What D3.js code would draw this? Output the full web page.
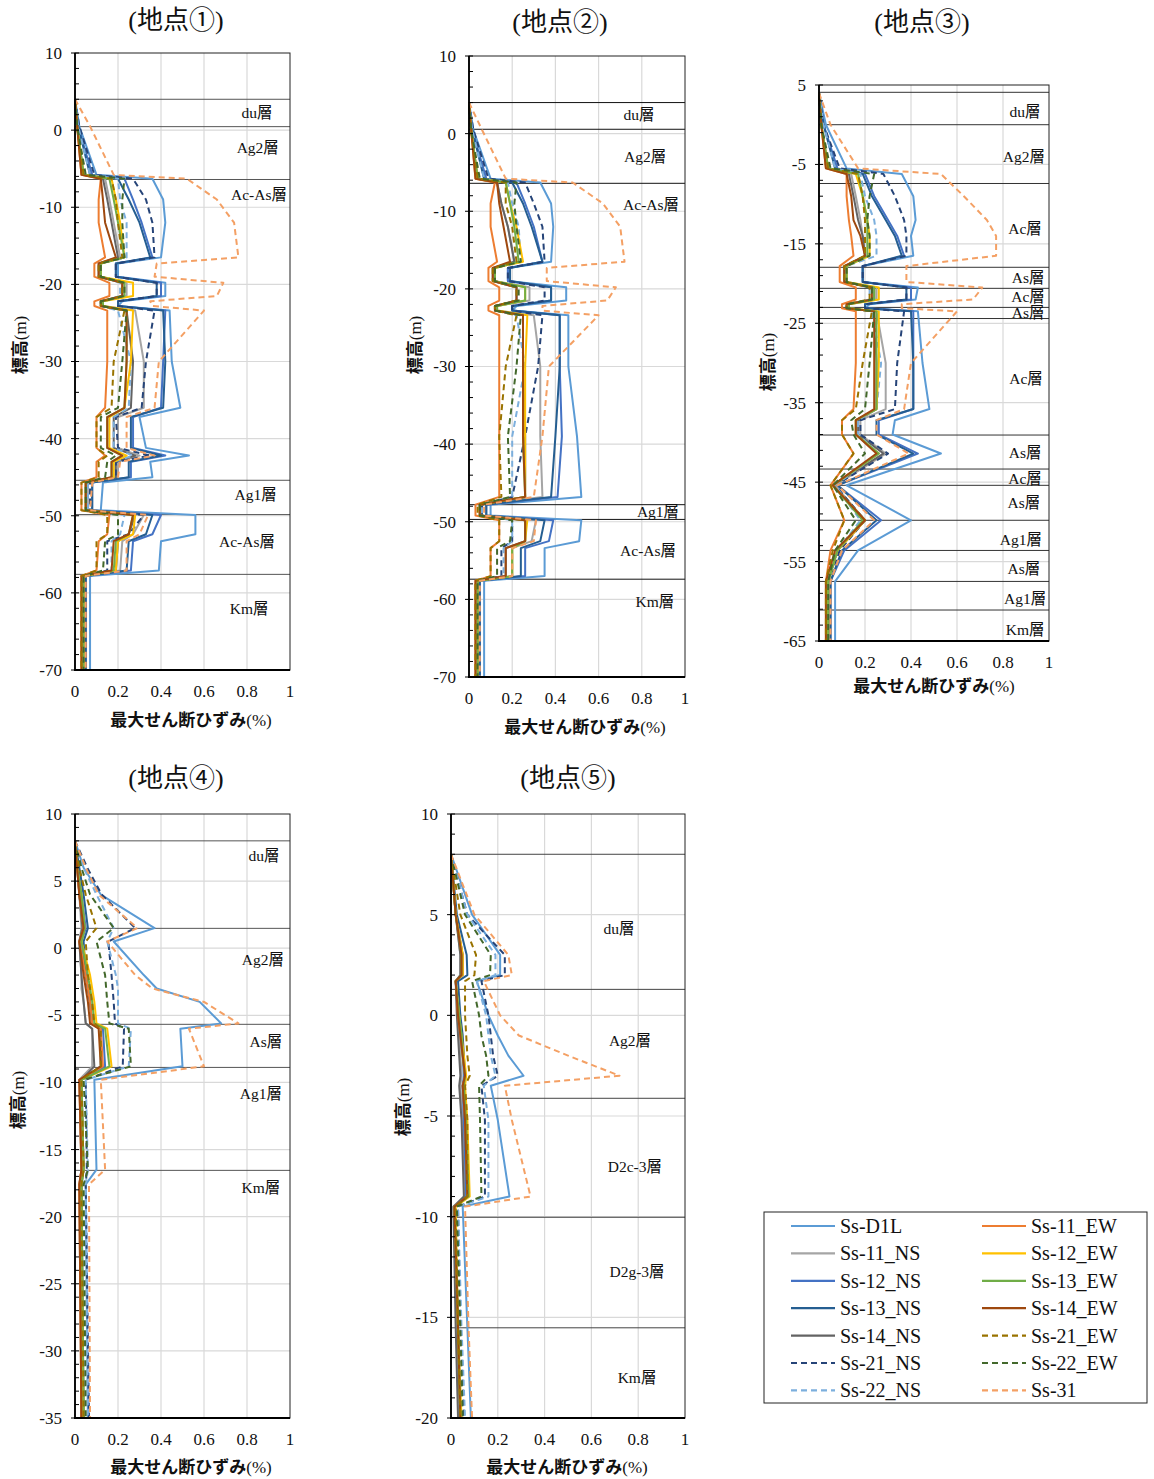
<!DOCTYPE html>
<html><head><meta charset="utf-8">
<script src="https://cdn.jsdelivr.net/npm/d3@7"></script>
<style>
body{margin:0;background:#fff;}
svg{display:block;}
</style></head>
<body>
<svg id="chart" width="1154" height="1479"></svg>
<script>
// ---------------- DATA ----------------
const seriesNames = ["Ss-D1L","Ss-11_NS","Ss-12_NS","Ss-13_NS","Ss-14_NS","Ss-21_NS","Ss-22_NS",
                     "Ss-11_EW","Ss-12_EW","Ss-13_EW","Ss-14_EW","Ss-21_EW","Ss-22_EW","Ss-31"];
const seriesColors = ["#5B9BD5","#A5A5A5","#4472C4","#255E91","#636363","#264478","#7CAFDD",
                      "#ED7D31","#FFC000","#70AD47","#9E480E","#997300","#43682B","#F4A064"];
const seriesDashed = [false,false,false,false,false,true,true,false,false,false,false,true,true,true];
const xTicks = [0,0.2,0.4,0.6,0.8,1];
const xTickLabels = ["0","0.2","0.4","0.6","0.8","1"];

// ---- 地点① ----
const depthSite1 = [4,0.5,-5.8,-6.3,-9,-12,-16.5,-17.3,-19,-19.8,-21.5,-22.2,-22.8,-23.4,-30,-36,-37.2,-41.2,-42.2,-43,-45,-45.7,-49.3,-49.9,-52.4,-53.3,-57.1,-57.8,-70];
const strainSite1 = {
 "Ss-D1L":  [0,0.02,0.1,0.36,0.41,0.42,0.4,0.2,0.2,0.42,0.42,0.22,0.2,0.44,0.45,0.49,0.3,0.33,0.53,0.35,0.36,0.13,0.12,0.56,0.56,0.4,0.39,0.07,0.07],
 "Ss-11_NS":[0,0.01,0.04,0.14,0.16,0.18,0.21,0.12,0.12,0.24,0.24,0.13,0.13,0.28,0.32,0.32,0.2,0.2,0.3,0.2,0.2,0.06,0.06,0.32,0.27,0.22,0.21,0.04,0.04],
 "Ss-12_NS":[0,0.015,0.08,0.23,0.27,0.31,0.36,0.19,0.19,0.4,0.4,0.2,0.2,0.42,0.41,0.4,0.27,0.27,0.42,0.26,0.26,0.08,0.08,0.4,0.36,0.27,0.26,0.05,0.05],
 "Ss-13_NS":[0,0.015,0.07,0.2,0.25,0.3,0.35,0.19,0.19,0.38,0.38,0.2,0.2,0.41,0.42,0.41,0.26,0.26,0.4,0.25,0.25,0.08,0.08,0.36,0.33,0.25,0.24,0.05,0.05],
 "Ss-14_NS":[0,0.01,0.04,0.13,0.15,0.17,0.2,0.11,0.11,0.22,0.22,0.12,0.12,0.24,0.27,0.26,0.18,0.18,0.28,0.19,0.19,0.05,0.05,0.28,0.25,0.2,0.19,0.04,0.04],
 "Ss-21_NS":[0,0.02,0.09,0.27,0.33,0.36,0.37,0.19,0.19,0.38,0.38,0.2,0.2,0.37,0.33,0.31,0.19,0.2,0.35,0.19,0.19,0.07,0.07,0.32,0.25,0.15,0.15,0.05,0.05],
 "Ss-22_NS":[0,0.015,0.07,0.2,0.21,0.24,0.24,0.12,0.12,0.21,0.21,0.13,0.12,0.2,0.26,0.25,0.18,0.18,0.27,0.18,0.18,0.06,0.06,0.23,0.21,0.17,0.17,0.04,0.04],
 "Ss-11_EW":[0,0.01,0.03,0.12,0.11,0.11,0.14,0.09,0.09,0.16,0.16,0.09,0.09,0.15,0.15,0.14,0.1,0.1,0.14,0.1,0.1,0.03,0.03,0.16,0.15,0.11,0.1,0.03,0.03],
 "Ss-12_EW":[0,0.01,0.04,0.17,0.19,0.21,0.23,0.12,0.12,0.27,0.27,0.13,0.13,0.27,0.26,0.23,0.16,0.16,0.24,0.18,0.18,0.05,0.05,0.28,0.27,0.2,0.19,0.04,0.04],
 "Ss-13_EW":[0,0.01,0.04,0.16,0.18,0.2,0.23,0.12,0.12,0.23,0.23,0.13,0.13,0.24,0.24,0.23,0.15,0.15,0.22,0.17,0.17,0.05,0.05,0.27,0.25,0.19,0.18,0.04,0.04],
 "Ss-14_EW":[0,0.01,0.03,0.12,0.13,0.14,0.19,0.11,0.11,0.22,0.22,0.12,0.12,0.24,0.24,0.23,0.15,0.15,0.22,0.17,0.17,0.05,0.05,0.27,0.25,0.18,0.17,0.03,0.03],
 "Ss-21_EW":[0,0.01,0.04,0.17,0.19,0.2,0.22,0.11,0.11,0.22,0.22,0.12,0.12,0.23,0.18,0.17,0.1,0.1,0.15,0.11,0.11,0.03,0.03,0.15,0.15,0.1,0.1,0.03,0.03],
 "Ss-22_EW":[0,0.01,0.05,0.23,0.22,0.22,0.23,0.12,0.12,0.23,0.23,0.12,0.12,0.24,0.22,0.2,0.12,0.12,0.19,0.15,0.14,0.05,0.05,0.2,0.2,0.14,0.13,0.04,0.04],
 "Ss-31":   [0,0.07,0.18,0.52,0.66,0.74,0.76,0.38,0.37,0.69,0.66,0.35,0.36,0.6,0.39,0.37,0.24,0.24,0.37,0.21,0.2,0.08,0.07,0.34,0.3,0.24,0.24,0.05,0.05]
};
const layersSite1 = [4.0,0.45,-6.4,-45.4,-49.85,-57.6];
const layerNamesSite1 = ["du層","Ag2層","Ac-As層","Ag1層","Ac-As層","Km層"];
const layerLabelElevSite1 = [2.3,-2.3,-8.3,-47.2,-53.4,-62.1];
const layerLabelValSite1 = [0.846,0.85,0.856,0.84,0.8,0.81];

// ---- 地点② ----
const depthSite2 = [4,0.5,-5.8,-6.3,-9,-12,-16.5,-17.3,-19,-19.8,-21.5,-22.2,-22.8,-23.4,-30,-39,-46.8,-47.8,-49.2,-49.8,-52.5,-53.4,-57.0,-57.6,-70];
const strainSite2 = {
 "Ss-D1L":  [0,0.02,0.1,0.33,0.38,0.39,0.38,0.18,0.18,0.45,0.45,0.22,0.2,0.46,0.46,0.5,0.52,0.1,0.1,0.52,0.51,0.35,0.35,0.07,0.07],
 "Ss-11_NS":[0,0.01,0.04,0.13,0.15,0.18,0.21,0.12,0.12,0.28,0.28,0.13,0.13,0.3,0.33,0.33,0.34,0.06,0.06,0.31,0.29,0.2,0.2,0.04,0.04],
 "Ss-12_NS":[0,0.015,0.08,0.22,0.26,0.3,0.34,0.18,0.18,0.38,0.38,0.2,0.2,0.42,0.42,0.43,0.41,0.08,0.08,0.39,0.37,0.26,0.26,0.05,0.05],
 "Ss-13_NS":[0,0.015,0.07,0.2,0.25,0.29,0.34,0.19,0.19,0.38,0.38,0.2,0.2,0.42,0.42,0.4,0.38,0.08,0.08,0.35,0.33,0.24,0.24,0.05,0.05],
 "Ss-14_NS":[0,0.01,0.04,0.13,0.15,0.18,0.21,0.11,0.11,0.22,0.22,0.12,0.12,0.25,0.25,0.26,0.26,0.05,0.05,0.26,0.26,0.17,0.17,0.04,0.04],
 "Ss-21_NS":[0,0.02,0.09,0.26,0.3,0.34,0.35,0.18,0.18,0.35,0.35,0.2,0.2,0.34,0.32,0.26,0.2,0.06,0.06,0.2,0.2,0.15,0.15,0.04,0.04],
 "Ss-22_NS":[0,0.015,0.07,0.18,0.2,0.23,0.24,0.12,0.12,0.22,0.22,0.13,0.13,0.22,0.26,0.2,0.2,0.06,0.06,0.2,0.2,0.16,0.16,0.04,0.04],
 "Ss-11_EW":[0,0.01,0.03,0.12,0.1,0.1,0.13,0.09,0.09,0.14,0.14,0.09,0.09,0.14,0.14,0.14,0.14,0.03,0.03,0.14,0.14,0.1,0.1,0.03,0.03],
 "Ss-12_EW":[0,0.01,0.04,0.17,0.19,0.22,0.25,0.12,0.12,0.26,0.26,0.13,0.13,0.27,0.26,0.26,0.26,0.05,0.05,0.27,0.26,0.2,0.2,0.04,0.04],
 "Ss-13_EW":[0,0.01,0.04,0.17,0.19,0.21,0.23,0.12,0.12,0.26,0.26,0.13,0.13,0.25,0.25,0.25,0.26,0.05,0.05,0.26,0.26,0.2,0.2,0.04,0.04],
 "Ss-14_EW":[0,0.01,0.03,0.13,0.14,0.16,0.19,0.11,0.11,0.22,0.22,0.12,0.12,0.25,0.25,0.25,0.26,0.05,0.05,0.26,0.26,0.17,0.17,0.03,0.03],
 "Ss-21_EW":[0,0.01,0.04,0.17,0.17,0.2,0.22,0.11,0.11,0.22,0.22,0.12,0.12,0.22,0.17,0.14,0.15,0.04,0.04,0.14,0.14,0.1,0.1,0.03,0.03],
 "Ss-22_EW":[0,0.01,0.05,0.22,0.21,0.22,0.24,0.12,0.12,0.23,0.23,0.12,0.12,0.24,0.22,0.18,0.19,0.05,0.05,0.2,0.19,0.13,0.13,0.04,0.04],
 "Ss-31":   [0,0.06,0.17,0.48,0.62,0.7,0.72,0.36,0.36,0.68,0.64,0.34,0.34,0.6,0.37,0.34,0.3,0.07,0.07,0.31,0.3,0.2,0.2,0.05,0.05]
};
const layersSite2 = [4.0,0.56,-6.4,-47.8,-49.7,-57.4];
const layerNamesSite2 = ["du層","Ag2層","Ac-As層","Ag1層","Ac-As層","Km層"];
const layerLabelElevSite2 = [2.4,-2.9,-9.1,-48.7,-53.7,-60.3];
const layerLabelValSite2 = [0.787,0.815,0.843,0.875,0.829,0.861];

// ---- 地点③ ----
const depthSite3 = [4,0,-5.5,-6.2,-9,-12,-14,-16.5,-17.8,-19.8,-20.5,-22,-22.6,-23.1,-23.5,-30,-35.8,-37.2,-39,-41.4,-45.4,-49.8,-53.6,-57.5,-65];
const strainSite3 = {
 "Ss-D1L":  [0,0.03,0.12,0.36,0.41,0.42,0.4,0.41,0.19,0.19,0.43,0.42,0.22,0.2,0.43,0.45,0.48,0.33,0.32,0.53,0.12,0.4,0.17,0.07,0.07],
 "Ss-11_NS":[0,0.01,0.04,0.14,0.16,0.18,0.19,0.2,0.12,0.12,0.25,0.25,0.13,0.13,0.25,0.29,0.29,0.18,0.18,0.29,0.07,0.2,0.08,0.04,0.04],
 "Ss-12_NS":[0,0.02,0.08,0.2,0.24,0.3,0.34,0.37,0.19,0.19,0.4,0.4,0.2,0.2,0.41,0.41,0.41,0.26,0.26,0.43,0.08,0.27,0.11,0.05,0.05],
 "Ss-13_NS":[0,0.02,0.07,0.19,0.23,0.29,0.33,0.36,0.19,0.19,0.38,0.38,0.2,0.2,0.4,0.41,0.41,0.25,0.25,0.41,0.08,0.25,0.1,0.05,0.05],
 "Ss-14_NS":[0,0.01,0.04,0.13,0.15,0.17,0.19,0.2,0.11,0.11,0.24,0.24,0.12,0.12,0.24,0.25,0.25,0.17,0.17,0.28,0.06,0.2,0.08,0.04,0.04],
 "Ss-21_NS":[0,0.02,0.09,0.28,0.33,0.37,0.38,0.38,0.19,0.19,0.38,0.38,0.2,0.2,0.37,0.34,0.33,0.18,0.18,0.3,0.07,0.2,0.09,0.04,0.04],
 "Ss-22_NS":[0,0.02,0.07,0.18,0.2,0.24,0.25,0.25,0.12,0.12,0.22,0.22,0.13,0.13,0.23,0.27,0.25,0.17,0.17,0.26,0.07,0.18,0.08,0.04,0.04],
 "Ss-11_EW":[0,0.01,0.03,0.12,0.12,0.13,0.14,0.15,0.09,0.09,0.16,0.16,0.1,0.1,0.16,0.16,0.15,0.1,0.1,0.15,0.05,0.11,0.05,0.03,0.03],
 "Ss-12_EW":[0,0.01,0.04,0.16,0.19,0.21,0.22,0.22,0.12,0.12,0.26,0.26,0.13,0.13,0.26,0.26,0.25,0.16,0.16,0.26,0.06,0.2,0.08,0.04,0.04],
 "Ss-13_EW":[0,0.01,0.04,0.17,0.19,0.21,0.21,0.21,0.12,0.12,0.24,0.24,0.13,0.13,0.25,0.25,0.25,0.16,0.16,0.26,0.06,0.19,0.08,0.04,0.04],
 "Ss-14_EW":[0,0.01,0.03,0.12,0.14,0.15,0.18,0.2,0.11,0.11,0.23,0.23,0.12,0.12,0.24,0.24,0.24,0.16,0.16,0.25,0.06,0.2,0.07,0.03,0.03],
 "Ss-21_EW":[0,0.01,0.04,0.17,0.19,0.2,0.2,0.2,0.11,0.11,0.22,0.22,0.12,0.12,0.23,0.19,0.16,0.1,0.1,0.15,0.05,0.11,0.06,0.03,0.03],
 "Ss-22_EW":[0,0.01,0.05,0.24,0.22,0.21,0.22,0.22,0.12,0.12,0.23,0.23,0.12,0.12,0.24,0.22,0.2,0.14,0.15,0.2,0.06,0.16,0.07,0.04,0.04],
 "Ss-31":   [0,0.05,0.17,0.53,0.63,0.73,0.77,0.77,0.38,0.38,0.71,0.67,0.36,0.36,0.6,0.4,0.37,0.25,0.25,0.39,0.08,0.24,0.1,0.05,0.05]
};
const layersSite3 = [4.08,0,-7.4,-17.95,-20.6,-23.0,-24.4,-39.07,-43.35,-45.4,-49.8,-53.6,-57.5,-61.1];
const layerNamesSite3 = ["du層","Ag2層","Ac層","As層","Ac層","As層","Ac層","As層","Ac層","As層","Ag1層","As層","Ag1層","Km層"];
const layerLabelElevSite3 = [1.6,-4.07,-13.1,-19.3,-21.7,-23.7,-31.9,-41.3,-44.5,-47.6,-52.2,-55.9,-59.7,-63.6];
const layerLabelValSite3 = [0.896,0.891,0.896,0.909,0.909,0.909,0.9,0.896,0.896,0.891,0.878,0.891,0.896,0.896];

// ---- 地点④ ----
const depthSite4 = [8,6,4,1.5,0.5,-2,-3,-4,-5.6,-6,-8.8,-9.8,-16.5,-17.6,-35];
const strainSite4 = {
 "Ss-D1L":  [0,0.04,0.12,0.37,0.18,0.32,0.38,0.58,0.68,0.49,0.5,0.09,0.1,0.05,0.06],
 "Ss-11_NS":[0,0.01,0.02,0.03,0.02,0.03,0.03,0.04,0.05,0.08,0.08,0.02,0.03,0.02,0.03],
 "Ss-12_NS":[0,0.015,0.03,0.05,0.03,0.05,0.06,0.07,0.08,0.13,0.14,0.03,0.04,0.03,0.04],
 "Ss-13_NS":[0,0.02,0.04,0.06,0.04,0.05,0.06,0.07,0.08,0.12,0.12,0.03,0.04,0.03,0.04],
 "Ss-14_NS":[0,0.01,0.02,0.035,0.02,0.03,0.035,0.04,0.05,0.08,0.09,0.03,0.03,0.03,0.03],
 "Ss-21_NS":[0,0.057,0.124,0.28,0.155,0.17,0.175,0.18,0.186,0.228,0.222,0.05,0.055,0.05,0.065],
 "Ss-22_NS":[0,0.04,0.1,0.18,0.15,0.19,0.2,0.2,0.2,0.26,0.25,0.05,0.06,0.05,0.06],
 "Ss-11_EW":[0,0.01,0.02,0.04,0.02,0.05,0.06,0.07,0.08,0.12,0.13,0.02,0.03,0.02,0.03],
 "Ss-12_EW":[0,0.01,0.03,0.045,0.03,0.07,0.08,0.09,0.1,0.15,0.17,0.03,0.04,0.03,0.04],
 "Ss-13_EW":[0,0.01,0.03,0.045,0.03,0.06,0.07,0.08,0.09,0.14,0.16,0.03,0.04,0.03,0.04],
 "Ss-14_EW":[0,0.01,0.02,0.04,0.02,0.04,0.05,0.06,0.07,0.11,0.12,0.02,0.03,0.02,0.03],
 "Ss-21_EW":[0,0.02,0.05,0.1,0.05,0.06,0.07,0.08,0.09,0.12,0.12,0.03,0.04,0.03,0.04],
 "Ss-22_EW":[0,0.03,0.07,0.18,0.1,0.14,0.145,0.15,0.16,0.25,0.26,0.04,0.06,0.04,0.05],
 "Ss-31":   [0,0.05,0.11,0.29,0.15,0.28,0.36,0.6,0.76,0.53,0.6,0.12,0.14,0.065,0.07]
};
const layersSite4 = [8.0,1.48,-5.67,-8.88,-16.55];
const layerNamesSite4 = ["du層","Ag2層","As層","Ag1層","Km層"];
const layerLabelElevSite4 = [6.87,-0.88,-6.99,-10.8,-17.8];
const layerLabelValSite4 = [0.879,0.874,0.888,0.865,0.865];

// ---- 地点⑤ ----
const depthSite5 = [8,5,3,2,1.7,0,-1,-2,-3,-3.5,-5.2,-9,-9.5,-15.5,-20];
const strainSite5 = {
 "Ss-D1L":  [0,0.09,0.21,0.21,0.11,0.16,0.2,0.245,0.31,0.17,0.2,0.25,0.05,0.07,0.085],
 "Ss-11_NS":[0,0.02,0.04,0.04,0.02,0.03,0.035,0.04,0.045,0.04,0.05,0.06,0.015,0.025,0.035],
 "Ss-12_NS":[0,0.02,0.05,0.05,0.02,0.03,0.04,0.05,0.055,0.05,0.055,0.065,0.015,0.03,0.04],
 "Ss-13_NS":[0,0.025,0.067,0.07,0.03,0.04,0.05,0.055,0.06,0.05,0.06,0.07,0.015,0.03,0.04],
 "Ss-14_NS":[0,0.02,0.04,0.04,0.02,0.025,0.03,0.035,0.04,0.035,0.045,0.055,0.01,0.02,0.03],
 "Ss-21_NS":[0,0.07,0.23,0.23,0.13,0.16,0.17,0.18,0.2,0.13,0.145,0.145,0.03,0.04,0.055],
 "Ss-22_NS":[0,0.07,0.19,0.19,0.11,0.15,0.16,0.17,0.19,0.14,0.16,0.16,0.03,0.045,0.06],
 "Ss-11_EW":[0,0.02,0.05,0.05,0.02,0.03,0.04,0.05,0.06,0.05,0.06,0.07,0.015,0.03,0.04],
 "Ss-12_EW":[0,0.02,0.05,0.05,0.02,0.035,0.045,0.055,0.065,0.06,0.07,0.08,0.02,0.03,0.045],
 "Ss-13_EW":[0,0.02,0.045,0.045,0.02,0.035,0.045,0.05,0.06,0.055,0.065,0.075,0.015,0.03,0.04],
 "Ss-14_EW":[0,0.02,0.045,0.045,0.02,0.03,0.04,0.05,0.06,0.05,0.06,0.07,0.015,0.03,0.04],
 "Ss-21_EW":[0,0.04,0.107,0.1,0.06,0.06,0.065,0.07,0.08,0.06,0.07,0.07,0.02,0.03,0.04],
 "Ss-22_EW":[0,0.06,0.17,0.167,0.09,0.12,0.13,0.15,0.16,0.12,0.124,0.13,0.025,0.04,0.05],
 "Ss-31":   [0,0.1,0.245,0.26,0.14,0.21,0.29,0.5,0.72,0.23,0.26,0.34,0.06,0.075,0.09]
};
const layersSite5 = [8.0,1.29,-4.12,-10.03,-15.52];
const layerNamesSite5 = ["du層","Ag2層","D2c-3層","D2g-3層","Km層"];
const layerLabelElevSite5 = [4.29,-1.23,-7.49,-12.75,-17.97];
const layerLabelValSite5 = [0.718,0.765,0.786,0.795,0.795];

// ---------------- LAYOUT ----------------
const panels = [
 {title:"(地点①)", L:75, R:290, T:53, B:670, ymin:-70, ymax:10, major:10, minor:2, tx:176, ty:20, ylx:20, yly:345, xlx:191, xly:720,
  depth:depthSite1, strain:strainSite1, layers:layersSite1, names:layerNamesSite1, lElev:layerLabelElevSite1, lVal:layerLabelValSite1, lc:"#555"},
 {title:"(地点②)", L:469, R:685, T:56, B:677, ymin:-70, ymax:10, major:10, minor:2, tx:560, ty:22, ylx:415, yly:345, xlx:585, xly:727,
  depth:depthSite2, strain:strainSite2, layers:layersSite2, names:layerNamesSite2, lElev:layerLabelElevSite2, lVal:layerLabelValSite2, lc:"#111"},
 {title:"(地点③)", L:819, R:1049, T:85, B:641, ymin:-65, ymax:5, major:10, minor:2, tx:922, ty:22, ylx:768, yly:362, xlx:934, xly:686,
  depth:depthSite3, strain:strainSite3, layers:layersSite3, names:layerNamesSite3, lElev:layerLabelElevSite3, lVal:layerLabelValSite3, lc:"#333"},
 {title:"(地点④)", L:75, R:290, T:814, B:1418, ymin:-35, ymax:10, major:5, minor:1, tx:176, ty:778, ylx:18, yly:1100, xlx:191, xly:1467,
  depth:depthSite4, strain:strainSite4, layers:layersSite4, names:layerNamesSite4, lElev:layerLabelElevSite4, lVal:layerLabelValSite4, lc:"#555"},
 {title:"(地点⑤)", L:451, R:685, T:814, B:1418, ymin:-20, ymax:10, major:5, minor:1, tx:568, ty:778, ylx:403, yly:1107, xlx:567, xly:1467,
  depth:depthSite5, strain:strainSite5, layers:layersSite5, names:layerNamesSite5, lElev:layerLabelElevSite5, lVal:layerLabelValSite5, lc:"#444"}
];

const SERIF = "'Liberation Serif','Times New Roman',serif";
const CJK = "'Noto Sans CJK JP','Noto Sans CJK SC',sans-serif";
const svg = d3.select("#chart");

panels.forEach(p => {
  const x = d3.scaleLinear().domain([0,1]).range([p.L,p.R]);
  const y = d3.scaleLinear().domain([p.ymin,p.ymax]).range([p.B,p.T]);
  const g = svg.append("g");
  const majors = d3.range(p.ymax, p.ymin - 0.001, -p.major);
  const minors = d3.range(p.ymax, p.ymin - 0.001, -p.minor);

  // grid
  g.selectAll(".vg").data(xTicks.slice(1,-1)).join("line")
    .attr("x1",d=>x(d)).attr("x2",d=>x(d)).attr("y1",p.T).attr("y2",p.B)
    .attr("stroke","#d9d9d9").attr("stroke-width",1.2);
  g.selectAll(".hg").data(majors.slice(1,-1)).join("line")
    .attr("x1",p.L).attr("x2",p.R).attr("y1",d=>y(d)).attr("y2",d=>y(d))
    .attr("stroke","#d9d9d9").attr("stroke-width",1.2);

  // layer boundaries
  g.selectAll(".lay").data(p.layers).join("line")
    .attr("x1",p.L).attr("x2",p.R).attr("y1",d=>y(d)).attr("y2",d=>y(d))
    .attr("stroke",p.lc).attr("stroke-width",1);

  // layer names
  g.selectAll(".ln").data(p.names).join("text")
    .attr("x",(d,i)=>x(p.lVal[i])).attr("y",(d,i)=>y(p.lElev[i]))
    .attr("dy","0.35em").attr("text-anchor","middle")
    .attr("font-family",SERIF+","+CJK).attr("font-size",15.5).attr("fill","#111")
    .text(d=>d);

  // series
  const line = d3.line().x(d=>x(d[0])).y(d=>y(d[1]));
  seriesNames.forEach((name,i) => {
    const vals = p.strain[name];
    const pts = vals.map((v,k)=>[v,p.depth[k]]);
    g.append("path").attr("d",line(pts)).attr("fill","none")
      .attr("stroke",seriesColors[i]).attr("stroke-width",2)
      .attr("stroke-linejoin","round")
      .attr("stroke-dasharray",seriesDashed[i]?"6,4":null);
  });

  // frame
  g.append("rect").attr("x",p.L).attr("y",p.T).attr("width",p.R-p.L).attr("height",p.B-p.T)
    .attr("fill","none").attr("stroke","#222").attr("stroke-width",1);
  g.append("line").attr("x1",p.L).attr("x2",p.L).attr("y1",p.T).attr("y2",p.B+1)
    .attr("stroke","#000").attr("stroke-width",1.8);
  g.append("line").attr("x1",p.L-1).attr("x2",p.R).attr("y1",p.B).attr("y2",p.B)
    .attr("stroke","#000").attr("stroke-width",1.8);

  // minor ticks (inside)
  g.selectAll(".mt").data(minors).join("line")
    .attr("x1",p.L).attr("x2",p.L+4).attr("y1",d=>y(d)).attr("y2",d=>y(d))
    .attr("stroke","#000").attr("stroke-width",1);
  g.selectAll(".Mt").data(majors).join("line")
    .attr("x1",p.L-4).attr("x2",p.L).attr("y1",d=>y(d)).attr("y2",d=>y(d))
    .attr("stroke","#000").attr("stroke-width",1);

  // tick labels
  g.selectAll(".yl").data(majors).join("text")
    .attr("x",p.L-13).attr("y",d=>y(d)).attr("dy","0.35em").attr("text-anchor","end")
    .attr("font-family",SERIF).attr("font-size",17).attr("fill","#111").text(d=>d);
  g.selectAll(".xl").data(xTicks).join("text")
    .attr("x",d=>x(d)).attr("y",p.B+27).attr("text-anchor","middle")
    .attr("font-family",SERIF).attr("font-size",17).attr("fill","#111")
    .text((d,i)=>xTickLabels[i]);

  // titles and axis labels
  svg.append("text").attr("x",p.tx).attr("y",p.ty).attr("dy","0.35em").attr("text-anchor","middle")
    .attr("font-family",SERIF+","+CJK).attr("font-size",26).attr("fill","#111").text(p.title);
  const xl = svg.append("text").attr("x",p.xlx).attr("y",p.xly).attr("dy","0.35em").attr("text-anchor","middle").attr("fill","#111");
  xl.append("tspan").attr("font-family",CJK).attr("font-weight","bold").attr("font-size",17).text("最大せん断ひずみ");
  xl.append("tspan").attr("font-family",SERIF).attr("font-size",17).text("(%)");
  const yl = svg.append("text").attr("transform",`translate(${p.ylx},${p.yly}) rotate(-90)`)
    .attr("dy","0.35em").attr("text-anchor","middle").attr("fill","#111");
  yl.append("tspan").attr("font-family",CJK).attr("font-weight","bold").attr("font-size",17).text("標高");
  yl.append("tspan").attr("font-family",SERIF).attr("font-size",17).text("(m)");
});

// legend
const lg = svg.append("g");
lg.append("rect").attr("x",764).attr("y",1212).attr("width",383).attr("height",191)
  .attr("fill","#fff").attr("stroke","#222").attr("stroke-width",1);
seriesNames.forEach((name,i) => {
  const col = i < 7 ? 0 : 1;
  const row = i % 7;
  const lx = col === 0 ? 791 : 982;
  const cy = 1226 + row*27.4;
  lg.append("line").attr("x1",lx).attr("x2",lx+44).attr("y1",cy).attr("y2",cy)
    .attr("stroke",seriesColors[i]).attr("stroke-width",2.2)
    .attr("stroke-dasharray",seriesDashed[i]?"6,4":null);
  lg.append("text").attr("x",lx+49).attr("y",cy).attr("dy","0.35em")
    .attr("font-family",SERIF).attr("font-size",20).attr("fill","#111").text(name);
});
</script>
</body></html>
